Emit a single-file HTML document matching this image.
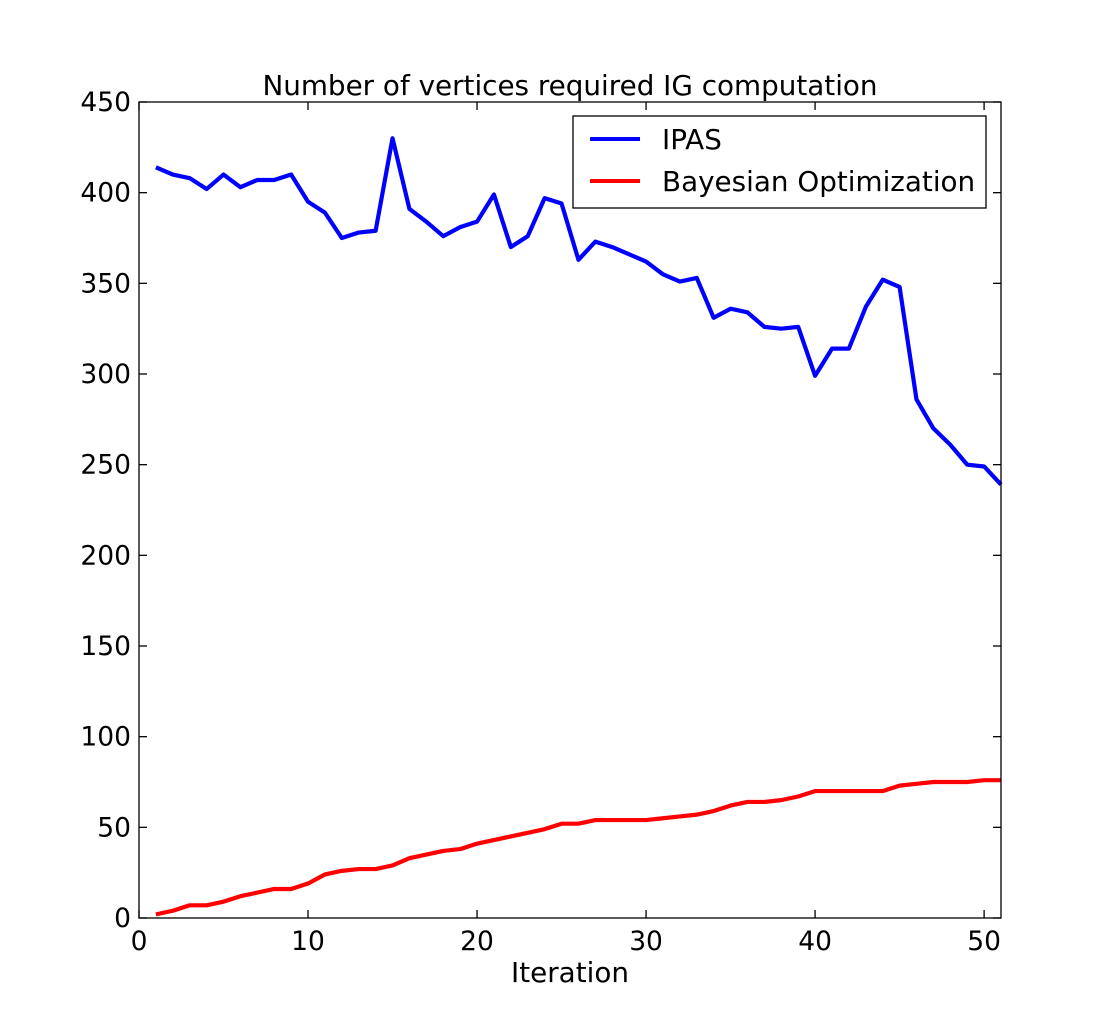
<!DOCTYPE html>
<html><head><meta charset="utf-8"><style>
body{margin:0;background:#fff;}
svg text{font-family:"DejaVu Sans","Liberation Sans",sans-serif;}
</style></head><body>
<svg id="chart" width="1111" height="1021" xmlns="http://www.w3.org/2000/svg">
<rect width="1111" height="1021" fill="#fff"/>
<text x="570" y="95" font-size="27.8" text-anchor="middle">Number of vertices required IG computation</text>
<g id="ticks"></g>
<g id="series"></g>
<rect x="139" y="102" width="862" height="816" fill="none" stroke="#000" stroke-width="1.3"/>
<text x="570" y="982" font-size="27.8" text-anchor="middle">Iteration</text>
<g>
<rect x="573" y="116" width="413" height="92" fill="#fff" stroke="#000" stroke-width="1.3"/>
<line x1="590" y1="139" x2="640" y2="139" stroke="#0000ff" stroke-width="4"/>
<text x="662" y="149" font-size="27.8">IPAS</text>
<line x1="590" y1="181" x2="640" y2="181" stroke="#ff0000" stroke-width="4"/>
<text x="662" y="191" font-size="27.8">Bayesian Optimization</text>
</g>
</svg>
<script>
const iterations=[1,2,3,4,5,6,7,8,9,10,11,12,13,14,15,16,17,18,19,20,21,22,23,24,25,26,27,28,29,30,31,32,33,34,35,36,37,38,39,40,41,42,43,44,45,46,47,48,49,50,51];
const ipasValues=[414,410,408,402,410,403,407,407,410,395,389,375,378,379,430,391,384,376,381,384,399,370,376,397,394,363,373,370,366,362,355,351,353,331,336,334,326,325,326,299,314,314,337,352,348,286,270,261,250,249,239];
const boValues=[2,4,7,7,9,12,14,16,16,19,24,26,27,27,29,33,35,37,38,41,43,45,47,49,52,52,54,54,54,54,55,56,57,59,62,64,64,65,67,70,70,70,70,70,73,74,75,75,75,76,76];
const xTicks=[0,10,20,30,40,50];
const yTicks=[0,50,100,150,200,250,300,350,400,450];
const NS="http://www.w3.org/2000/svg";
const X0=139,X1=1001,Y0=918,Y1=102,XMAX=51,YMAX=450;
function xs(v){return X0+(X1-X0)*v/XMAX;}
function ys(v){return Y0-(Y0-Y1)*v/YMAX;}
const tg=document.getElementById('ticks');
function mk(tag,attrs,parent){const e=document.createElementNS(NS,tag);for(const k in attrs)e.setAttribute(k,attrs[k]);parent.appendChild(e);return e;}
xTicks.forEach(t=>{
  const x=xs(t);
  const l1=mk('line',{x1:x,y1:Y0,x2:x,y2:Y0-8,stroke:'#000','stroke-width':1.3},tg);
  
  
  const l2=mk('line',{x1:x,y1:Y1,x2:x,y2:Y1+8,stroke:'#000','stroke-width':1.3},tg);
  
  
  const tx=mk('text',{x:x,y:Y0+32,'font-size':26.5,'text-anchor':'middle'},tg);
  tx.textContent=t;
  
  
});
yTicks.forEach(t=>{
  const y=ys(t);
  const l1=mk('line',{x1:X0,y1:y,x2:X0+8,y2:y,stroke:'#000','stroke-width':1.3},tg);
  
  
  const l2=mk('line',{x1:X1,y1:y,x2:X1-8,y2:y,stroke:'#000','stroke-width':1.3},tg);
  
  
  const tx=mk('text',{x:X0-8,y:y+9,'font-size':26.5,'text-anchor':'end'},tg);
  tx.textContent=t;
  
  
});
const sg=document.getElementById('series');
function line(vals,color,name){
  const pts=iterations.map((it,i)=>xs(it)+','+ys(vals[i])).join(' ');
  const p=mk('polyline',{points:pts,fill:'none',stroke:color,'stroke-width':4.2,'stroke-linejoin':'round'},sg);
  
  
}
line(ipasValues,'#0000ff','ipas-line');
line(boValues,'#ff0000','bayesian-optimization-line');
</script>
</body></html>
